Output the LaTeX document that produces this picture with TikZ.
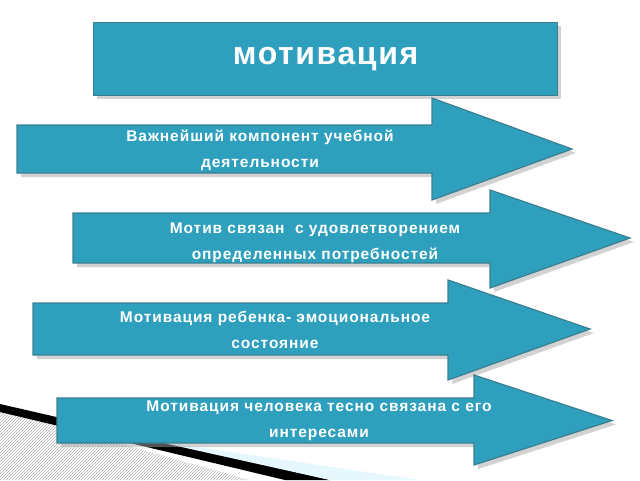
\documentclass[tikz,border=0pt]{standalone}
\usepackage{fontspec}
\setmainfont{Liberation Sans}
\usetikzlibrary{patterns}
\definecolor{teal1}{HTML}{2EA0BE}
\definecolor{edge1}{HTML}{3A7F90}
\tikzset{
  tealshape/.style={fill=teal1,draw=edge1,line width=1.2pt},
  shadowfill/.style={fill=black!35,opacity=0.5},
  lbl/.style={text=white,font=\addfontfeature{LetterSpace=6}\bfseries\fontsize{15.5}{26}\selectfont,align=center}
}
\newcommand{\arr}[8]{% x0, x1, ytop, ybot, htop, hbot, tip
  \fill[shadowfill] (#2+4,#4+4) -- (#3+4,#4+4) -- (#3+4,#6+4) -- (#8+4,{(#4+#5)/2+4}) -- (#3+4,#7+4) -- (#3+4,#5+4) -- (#2+4,#5+4) -- cycle;
  \draw[tealshape] (#2,#4) -- (#3,#4) -- (#3,#6) -- (#8,{(#4+#5)/2}) -- (#3,#7) -- (#3,#5) -- (#2,#5) -- cycle;
}
\begin{document}
\begin{tikzpicture}[x=1pt,y=-1pt]
\useasboundingbox (0,0) rectangle (640,480);
\fill[pattern=north east lines,pattern color=black!30] (0,410) -- (250,480) -- (0,480) -- cycle;
\fill[black] (0,404) -- (330,480) -- (285,480) -- (0,412) -- cycle;
\fill[cyan!10] (150,440) -- (420,480) -- (330,480) -- cycle;
\fill[shadowfill] (97,26) rectangle (561,99);
\node[tealshape,minimum width=464pt,minimum height=73pt,anchor=north west,text=white,font=\addfontfeature{LetterSpace=5}\bfseries\fontsize{32}{36}\selectfont] (title) at (93,22) {мотивация};
\arr{a1}{17}{432}{125}{173}{98}{200}{572}
\node[lbl] (t1) at (260,150) {Важнейший компонент учебной\\деятельности};
\arr{a2}{73}{490}{213}{263}{190}{288}{630}
\node[lbl] (t2) at (315,243) {Мотив связан \ с удовлетворением\\ определенных потребностей};
\arr{a3}{33}{448}{303}{355}{280}{380}{590}
\node[lbl] (t3) at (275,330) {Мотивация ребенка- эмоциональное\\состояние};
\arr{a4}{57}{474}{398}{443}{375}{465}{612}
\node[lbl] (t4) at (319,421) {Мотивация человека тесно связана с его\\интересами};
\end{tikzpicture}
\end{document}
